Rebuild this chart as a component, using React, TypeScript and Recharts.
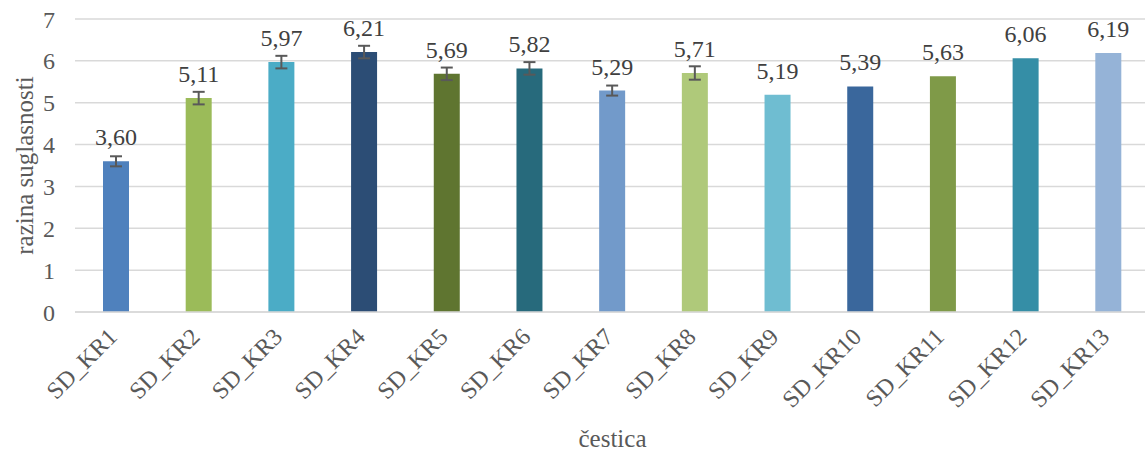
import React from 'react';
import { BarChart, Bar, XAxis, YAxis, CartesianGrid, Cell, LabelList, ErrorBar } from 'recharts';

const categories = ['SD_KR1', 'SD_KR2', 'SD_KR3', 'SD_KR4', 'SD_KR5', 'SD_KR6', 'SD_KR7', 'SD_KR8', 'SD_KR9', 'SD_KR10', 'SD_KR11', 'SD_KR12', 'SD_KR13'];
const values = [3.60, 5.11, 5.97, 6.21, 5.69, 5.82, 5.29, 5.71, 5.19, 5.39, 5.63, 6.06, 6.19];
const errors = [0.12, 0.15, 0.15, 0.15, 0.15, 0.15, 0.12, 0.16, 0, 0, 0, 0, 0];
const colors = ['#4F81BD', '#9BBB59', '#4BACC6', '#2C4D75', '#5F7530', '#276A7C', '#729ACA', '#AFC97A', '#6FBDD1', '#3A679C', '#7F9A48', '#358EA6', '#95B3D7'];
const yTicks = [0, 1, 2, 3, 4, 5, 6, 7];

const data = categories.map((c, i) => ({ name: c, value: values[i], err: errors[i] }));

const FONT = "'Times New Roman', 'Liberation Serif', 'DejaVu Serif', serif";
const TEXT = '#595959';

const XTick = (props: any) => {
  const { x, y, payload } = props;
  return (
    <g transform={`translate(${x},${y})`}>
      <text x={0} y={0} dx={-17} dy={20} textAnchor="end" transform="rotate(-45)" fill={TEXT} fontSize={24} style={{ fontFamily: FONT }}>
        {payload.value}
      </text>
    </g>
  );
};

const YTitle = (props: any) => {
  const vb = props.viewBox;
  const cx = vb.x + 24;
  const cy = vb.y + vb.height / 2;
  return (
    <text x={cx} y={cy} transform={`rotate(-90 ${cx} ${cy})`} textAnchor="middle" dominantBaseline="central" fill={TEXT} fontSize={25} style={{ fontFamily: FONT }}>
      razina suglasnosti
    </text>
  );
};

const XTitle = (props: any) => {
  const vb = props.viewBox;
  return (
    <text x={vb.x + vb.width / 2} y={vb.y + vb.height - 6} textAnchor="middle" fill={TEXT} fontSize={25} style={{ fontFamily: FONT }}>
      čestica
    </text>
  );
};

export default function App() {
  return (
    <div style={{ position: 'absolute', left: 0, top: 0, width: 1145, height: 453, overflow: 'hidden', background: '#fff', fontFamily: FONT }}>
      <BarChart width={1152} height={453} data={data} margin={{ top: 19, right: 2, left: 0, bottom: 0 }} style={{ fontFamily: FONT }}>
        <CartesianGrid vertical={false} stroke="#d9d9d9" strokeWidth={1.5} />
        <XAxis
          dataKey="name"
          height={141}
          tickLine={false}
          tickSize={0}
          tickMargin={0}
          axisLine={{ stroke: '#d9d9d9', strokeWidth: 1.5 }}
          tick={<XTick />}
          interval={0}
          label={<XTitle />}
        />
        <YAxis
          width={75}
          domain={[0, 7]}
          ticks={yTicks}
          interval={0}
          tickLine={false}
          axisLine={false}
          tickSize={0}
          tickMargin={20}
          tick={{ fill: TEXT, fontSize: 24, style: { fontFamily: FONT } }}
          label={<YTitle />}
        />
        <Bar dataKey="value" barSize={26} isAnimationActive={false}>
          {data.map((d, i) => (
            <Cell key={d.name} fill={colors[i]} />
          ))}
          <ErrorBar dataKey="err" width={6} stroke="#595959" strokeWidth={2} />
          <LabelList
            dataKey="value"
            position="top"
            offset={16}
            fill="#404040"
            fontSize={24}
            style={{ fontFamily: FONT }}
            formatter={(v: any) => Number(v).toFixed(2).replace('.', ',')}
          />
        </Bar>
      </BarChart>
    </div>
  );
}
